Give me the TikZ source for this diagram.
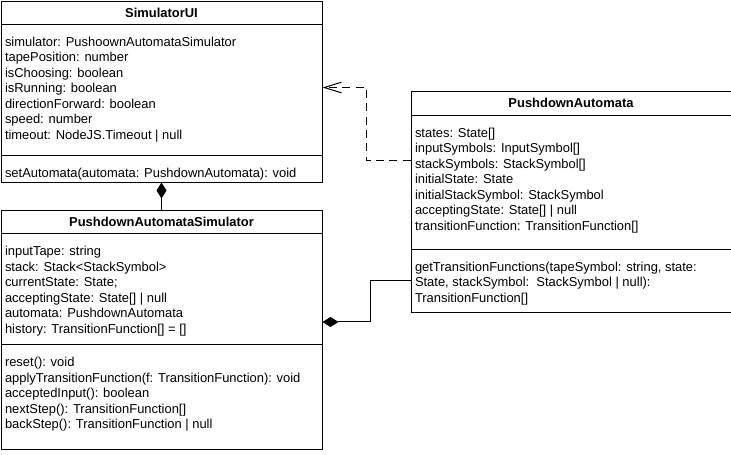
\documentclass[tikz,border=0pt]{standalone}
\usepackage{fontspec}
\setmainfont{Liberation Sans}
\usetikzlibrary{shapes,positioning,arrows.meta,calc}

\begin{document}
\begin{tikzpicture}[x=0.75pt,y=-0.75pt,
            font=\fontsize{9.7pt}{11.6pt}\selectfont,
            umlclass/.style={
                rectangle split, rectangle split parts=3, draw, line width=0.75pt,
                inner xsep=3pt, inner ysep=0pt, anchor=north west},
            composition/.style={arrows={Diamond[length=12pt,width=7.5pt]-}, line width=0.75pt},
            dependency/.style={arrows={-Straight Barb[length=13pt,width=8pt]},
                dash pattern=on 6pt off 4pt, line width=0.75pt}]

            \useasboundingbox (0,0) rectangle (731,454);

            \node [umlclass] (ui) at (0.5,0.5) {%
            \parbox[c][16.5pt][c]{234.75pt}{\centering\bfseries SimulatorUI}%
            \nodepart{two}\parbox[c][97.5pt][t]{234.75pt}{\raggedright\rule{0pt}{16.5pt}%
            simulator: PushoownAutomataSimulator\\
            tapePosition: number\\
            isChoosing: boolean\\
            isRunning: boolean\\
            directionForward: boolean\\
            speed: number\\
            timeout: NodeJS.Timeout | null}%
            \nodepart{three}\parbox[c][19.5pt][t]{234.75pt}{\raggedright\rule{0pt}{16.5pt}%
            setAutomata(automata: PushdownAutomata): void}%
            };
            \node [umlclass,below=20.6pt of ui] (sim) {%
            \parbox[c][16.5pt][c]{234.75pt}{\centering\bfseries PushdownAutomataSimulator}%
            \nodepart{two}\parbox[c][82.5pt][t]{234.75pt}{\raggedright\rule{0pt}{16.5pt}%
            inputTape: string\\
            stack: Stack<StackSymbol>\\
            currentState: State;\\
            acceptingState: State[] | null\\
            automata: PushdownAutomata\\
            history: TransitionFunction[] = []}%
            \nodepart{three}\parbox[c][78pt][t]{234.75pt}{\raggedright\rule{0pt}{16.5pt}%
            reset(): void\\
            applyTransitionFunction(f: TransitionFunction): void\\
            acceptedInput(): boolean\\
            nextStep(): TransitionFunction[]\\
            backStep(): TransitionFunction | null}%
            };
            \node [umlclass] (pa) at (410.5,90.5) {%
            \parbox[c][17.25pt][c]{234pt}{\centering\bfseries PushdownAutomata}%
            \nodepart{two}\parbox[c][99.75pt][t]{234pt}{\raggedright\rule{0pt}{16.5pt}%
            states: State[]\\
            inputSymbols: InputSymbol[]\\
            stackSymbols: StackSymbol[]\\
            initialState: State\\
            initialStackSymbol: StackSymbol\\
            acceptingState: State[] | null\\
            transitionFunction: TransitionFunction[]}%
            \nodepart{three}\parbox[c][46.5pt][t]{234pt}{\raggedright\rule{0pt}{16.5pt}%
            getTransitionFunctions(tapeSymbol: string, state:\\
            State, stackSymbol:\ \ StackSymbol | null):\\
            TransitionFunction[]}%
            };

            \draw [composition] (ui.south) -- (sim.north);
            \draw [dependency] ($(pa.north west)+(0,70)$) -| ($(ui.north east)+(44,87)$)
                -- ($(ui.north east)+(0,87)$);
            \draw [composition] ($(sim.north east)+(0,112)$) -| ($(pa.north west)+(-40,190)$)
                -- ($(pa.north west)+(0,190)$);

        \end{tikzpicture}
\end{document}
